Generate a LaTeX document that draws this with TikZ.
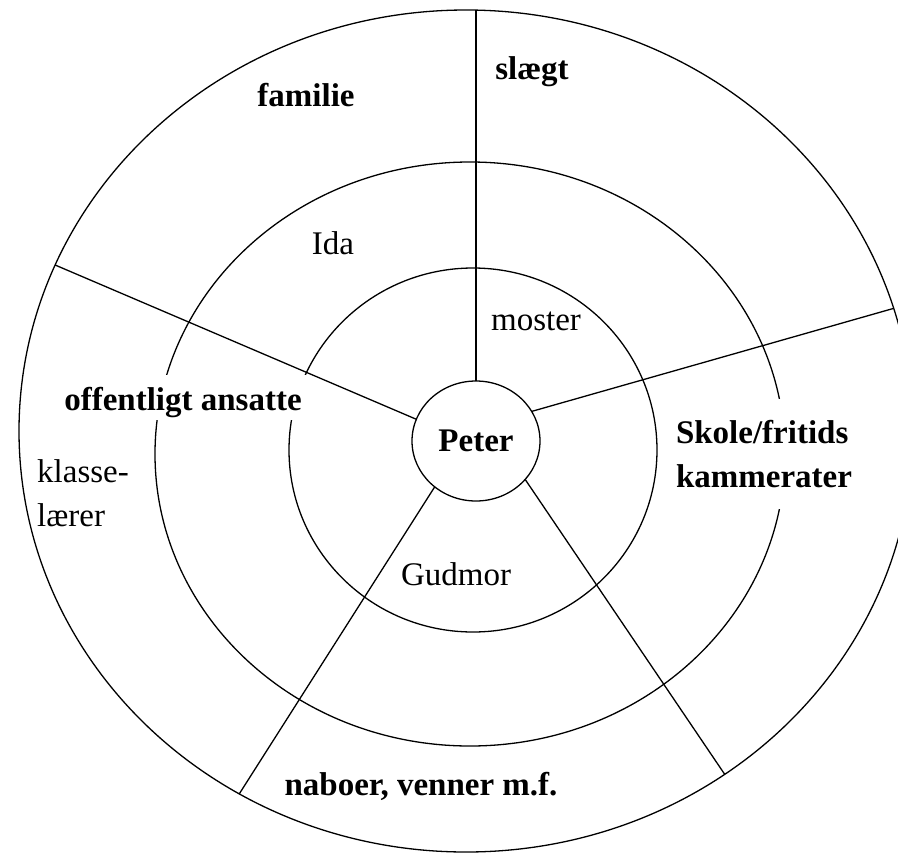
\documentclass[tikz,border=0pt]{standalone}
\usepackage{fontspec}
\setmainfont{Liberation Serif}
\usetikzlibrary{shapes.geometric}

\begin{document}
\begin{tikzpicture}[
  x=1pt, y=-1pt,
  ring/.style={ellipse, draw, line width=1.3pt, inner sep=0pt, outer sep=0pt},
  spoke/.style={line width=1.3pt},
  group/.style={font=\fontsize{33}{44}\selectfont\bfseries, inner sep=0pt},
  person/.style={font=\fontsize{33}{44}\selectfont, inner sep=0pt},
  cover/.style={fill=white}
]
\useasboundingbox (0,0) rectangle (898,855);
\clip (0,0) rectangle (898,855);

% Rings
\node[ring, minimum width=894pt, minimum height=842pt] (outer) at (466,431) {};
\node[ring, minimum width=630pt, minimum height=584pt] (middle) at (470,454) {};
\node[ring, minimum width=368pt, minimum height=364pt] (inner) at (473,450) {};
\node[ring, group, fill=white, minimum width=128pt, minimum height=120pt] (peter) at (476,441) {Peter};

% Spokes
\draw[spoke] (peter.north) -- (peter.north |- outer.north);
\draw[spoke] (peter.160) -- (outer.158);
\draw[spoke] (peter.28) -- (outer.16);
\draw[spoke] (peter.228) -- (outer.238);
\draw[spoke] (peter.322) -- (outer.307);

% Labels
\node[group, anchor=base] (familie) at (306,106) {familie};
\node[group, anchor=base] (slaegt) at (532,79) {slægt};
\node[person, anchor=base] (ida) at (333,254) {Ida};
\node[person, anchor=base] (moster) at (536,330) {moster};
\node[group, cover, anchor=base, inner xsep=4pt, text height=35pt, text depth=10pt] (offentlig) at (183,410) {offentligt ansatte};
\node[group, cover, align=left, minimum width=185pt, minimum height=110pt] (skole) at (764,454) {Skole/fritids\\kammerater};
\node[person, align=left, anchor=west] (klasse) at (37,493) {klasse-\\lærer};
\node[person, anchor=base] (gudmor) at (456,585) {Gudmor};
\node[group, anchor=base] (naboer) at (421,795) {naboer, venner m.f.};

\end{tikzpicture}
\end{document}
